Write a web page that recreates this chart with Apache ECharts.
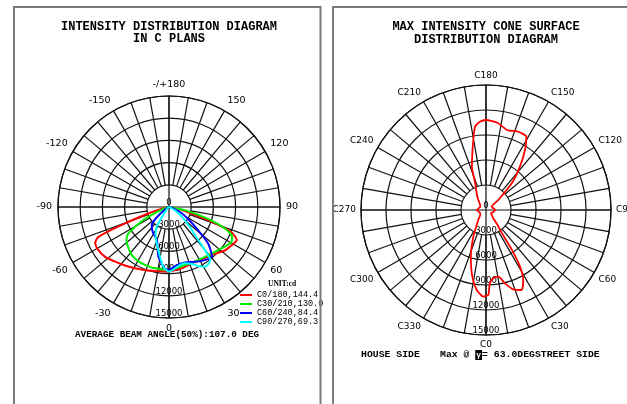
<!DOCTYPE html>
<html><head><meta charset="utf-8">
<script src="https://cdn.jsdelivr.net/npm/echarts@6/dist/echarts.min.js"></script>
<style>html,body{margin:0;padding:0;background:#fff}#c{width:627px;height:404px}</style>
</head><body><div id="c"></div>
<script>
// ---- data (left: intensity in C planes, gamma deg / cd) ----
const seriesNames = ['C0/180,144.4', 'C30/210,130.0', 'C60/240,84.4', 'C90/270,69.3'];
const seriesColors = ['#ff0000', '#00ee00', '#0000ff', '#00ffff'];

const gammaC0 = [-90,-80,-75,-72,-69,-67,-64,-59,-52,-45,-37,-29,-20,-12,-5,0,5,12,18,25,33,42,52,58,64,68,71,75,80,90];
const cdC0    = [0,400,1200,3400,7300,10400,11100,11200,10950,10400,9900,9450,9100,8850,8750,8750,8600,8450,8300,8200,8400,8700,9550,9900,10200,9100,6000,2500,800,0];

const gammaC30 = [-90,-78,-68,-63,-57,-53,-49,-43,-38,-30,-22,-15,-7,0,7,15,24,32,41,49,55,61,65,69,73,78,90];
const cdC30    = [0,300,1500,4000,6550,7200,7530,7900,8210,8400,8480,8500,8480,8500,8300,8130,8150,8220,8500,8840,9300,9680,9400,8090,5600,2500,0];

const gammaC60 = [-90,-60,-52,-47,-42,-31,-20,-12,-4,0,5,13,20,25,33,41,47,53,58,64,72,90];
const cdC60    = [0,300,1500,2900,3500,4140,4760,6870,8300,8500,8100,7800,7900,8180,8600,8850,7230,4410,3000,1920,600,0];

const gammaC90 = [-90,-50,-40,-35,-32,-25,-14,-5.5,0,5,10,16,22,27,31,35,38,40,42,46,53,60,70,90];
const cdC90    = [0,200,700,1700,3140,4300,5990,8100,8740,8400,8000,7910,8300,9000,9420,9350,9050,7400,5600,4000,2160,900,200,0];

// ---- data (right: max intensity cone surface, C angle deg / cd) ----
const coneC  = [0,1.6,3,6,10.5,14.5,19,24,28,31,33,34.5,38,41,50,60,75,90,105,120,129,136,142,147,151,158,165,172,180,184,187.5,191,198,202,210,218,230,245,270,295,310,322,334.6,342,348.4,353.4,358.2];
const coneCd = [10300,10200,8800,8240,8140,9090,10070,10510,9520,7930,5710,3370,2200,1330,900,700,900,1100,900,800,1900,4450,6610,8590,10020,10160,9910,10510,10800,10620,10080,8160,5470,3460,2200,1510,900,800,1100,800,900,1510,3540,5890,8170,9670,10410];

// ---- axis ticks ----
const radiusMax = 15000;
const radiusStep = 3000;
const angleLabelStep = 30;
const angleGridStep = 10;

const gammas = [gammaC0, gammaC30, gammaC60, gammaC90];
const cds = [cdC0, cdC30, cdC60, cdC90];

const GRID = {color: '#111', width: 1.2};
const SANS = 'DejaVu Sans';
const MONO = 'Liberation Mono';

function buildPolar(center, R, rInner, labelFmt, labelSize, labelMargin) {
  return {
    polar: [
      {center: center, radius: [rInner, R]},
      {center: center, radius: [0, R]},
      {center: center, radius: [0, R]}
    ],
    angle: [
      {type: 'value', min: 0, max: 360, interval: angleGridStep, startAngle: 270, clockwise: false,
       axisLine: {show: false}, axisTick: {show: false}, axisLabel: {show: false},
       splitLine: {show: true, lineStyle: GRID}},
      {type: 'value', min: 0, max: 360, interval: 90, startAngle: 270, clockwise: false,
       axisLine: {show: false}, axisTick: {show: false}, axisLabel: {show: false},
       splitLine: {show: true, lineStyle: GRID}},
      {type: 'value', min: 0, max: 360, interval: angleLabelStep, startAngle: 270, clockwise: false,
       axisLine: {show: true, lineStyle: GRID}, axisTick: {show: false},
       axisLabel: {show: true, margin: labelMargin, formatter: labelFmt, color: '#000', fontFamily: SANS, fontSize: labelSize},
       splitLine: {show: false}}
    ],
    radius: [
      {type: 'value', min: 0, max: radiusMax, show: false},
      {type: 'value', min: 0, max: radiusMax, show: false},
      {type: 'value', min: 0, max: radiusMax, interval: radiusStep,
       axisLine: {show: false}, axisTick: {show: false},
       splitLine: {show: true, lineStyle: GRID},
       axisLabel: {show: true, margin: 0, align: 'center', verticalAlign: 'bottom', color: '#000', fontFamily: SANS, fontSize: 8.5,
                   formatter: v => String(v), showMinLabel: true, showMaxLabel: true}}
    ]
  };
}

const leftFmt = v => v === 360 ? '' : (v === 180 ? '-/+180' : (v > 180 ? String(v - 360) : String(v)));
const rightFmt = v => v === 360 ? '' : 'C' + v;

const L = buildPolar([169, 207], 111, 22.2, leftFmt, 9.5, 6);
const Rt = buildPolar([486, 210], 125, 25, rightFmt, 9, 5);

const polar = L.polar.concat(Rt.polar);
const angleAxis = L.angle.map((a, i) => Object.assign({polarIndex: i}, a))
  .concat(Rt.angle.map((a, i) => Object.assign({polarIndex: i + 3}, a)));
const radiusAxis = L.radius.map((a, i) => Object.assign({polarIndex: i}, a))
  .concat(Rt.radius.map((a, i) => Object.assign({polarIndex: i + 3}, a)));

const series = seriesNames.map((name, k) => ({
  name: name, type: 'line', coordinateSystem: 'polar', polarIndex: 2,
  data: gammas[k].map((g, i) => [cds[k][i], g < 0 ? g + 360 : g]),
  symbol: 'none', smooth: 0.2,
  lineStyle: {color: seriesColors[k], width: 2}, itemStyle: {color: seriesColors[k]},
  z: 5
}));
series.push({
  name: 'cone', type: 'line', coordinateSystem: 'polar', polarIndex: 5,
  data: coneC.map((c, i) => [coneCd[i], c]).concat([[coneCd[0], 360]]),
  symbol: 'none', smooth: 0.2,
  lineStyle: {color: '#ff0000', width: 1.8}, itemStyle: {color: '#ff0000'}, z: 5
});

const option = {
  animation: false,
  backgroundColor: '#fff',
  polar: polar, angleAxis: angleAxis, radiusAxis: radiusAxis,
  series: series,
  legend: {
    data: seriesNames, orient: 'vertical', left: 240, top: 290.5, padding: 0,
    itemWidth: 12, itemHeight: 2, itemGap: 0, icon: 'rect',
    textStyle: {fontFamily: MONO, fontSize: 8.5, lineHeight: 8.5, color: '#000'}
  },
  graphic: [
    {type: 'rect', shape: {x: 14, y: 7, width: 306.5, height: 420}, style: {fill: 'none', stroke: '#7a7a7a', lineWidth: 2}, z: 10},
    {type: 'rect', shape: {x: 333, y: 7, width: 320, height: 420}, style: {fill: 'none', stroke: '#7a7a7a', lineWidth: 2}, z: 10},
    {type: 'text', style: {text: 'INTENSITY DISTRIBUTION DIAGRAM', x: 169, y: 26.5, textAlign: 'center', textVerticalAlign: 'middle', font: 'bold 12px "Liberation Mono"', fill: '#000'}},
    {type: 'text', style: {text: 'IN C PLANS', x: 169, y: 39, textAlign: 'center', textVerticalAlign: 'middle', font: 'bold 12px "Liberation Mono"', fill: '#000'}},
    {type: 'text', style: {text: 'MAX INTENSITY CONE SURFACE', x: 486, y: 26.5, textAlign: 'center', textVerticalAlign: 'middle', font: 'bold 12px "Liberation Mono"', fill: '#000'}},
    {type: 'text', style: {text: 'DISTRIBUTION DIAGRAM', x: 486, y: 40, textAlign: 'center', textVerticalAlign: 'middle', font: 'bold 12px "Liberation Mono"', fill: '#000'}},
    {type: 'text', style: {text: 'UNIT:cd', x: 268, y: 284.5, textAlign: 'left', textVerticalAlign: 'middle', font: 'bold 7.5px "Liberation Serif"', fill: '#000'}},
    {type: 'text', style: {text: 'AVERAGE BEAM ANGLE(50%):107.0 DEG', x: 75, y: 335, textAlign: 'left', textVerticalAlign: 'middle', font: 'bold 9.3px "Liberation Mono"', fill: '#000'}},
    {type: 'text', style: {text: 'HOUSE SIDE', x: 361, y: 355, textAlign: 'left', textVerticalAlign: 'middle', font: 'bold 9.8px "Liberation Mono"', fill: '#000'}},
    {type: 'text', style: {text: 'Max @ {b|γ}= 63.0DEGSTREET SIDE', x: 440, y: 355, textAlign: 'left', textVerticalAlign: 'middle', font: 'bold 9.8px "Liberation Mono"', fill: '#000',
      rich: {b: {backgroundColor: '#000', color: '#fff', fill: '#fff', font: 'bold 8px "Liberation Mono"', padding: [1, 1, 1, 1]}}}}
  ]
};

const chart = echarts.init(document.getElementById('c'), null, {renderer: 'canvas'});
chart.setOption(option);
</script>
</body></html>
